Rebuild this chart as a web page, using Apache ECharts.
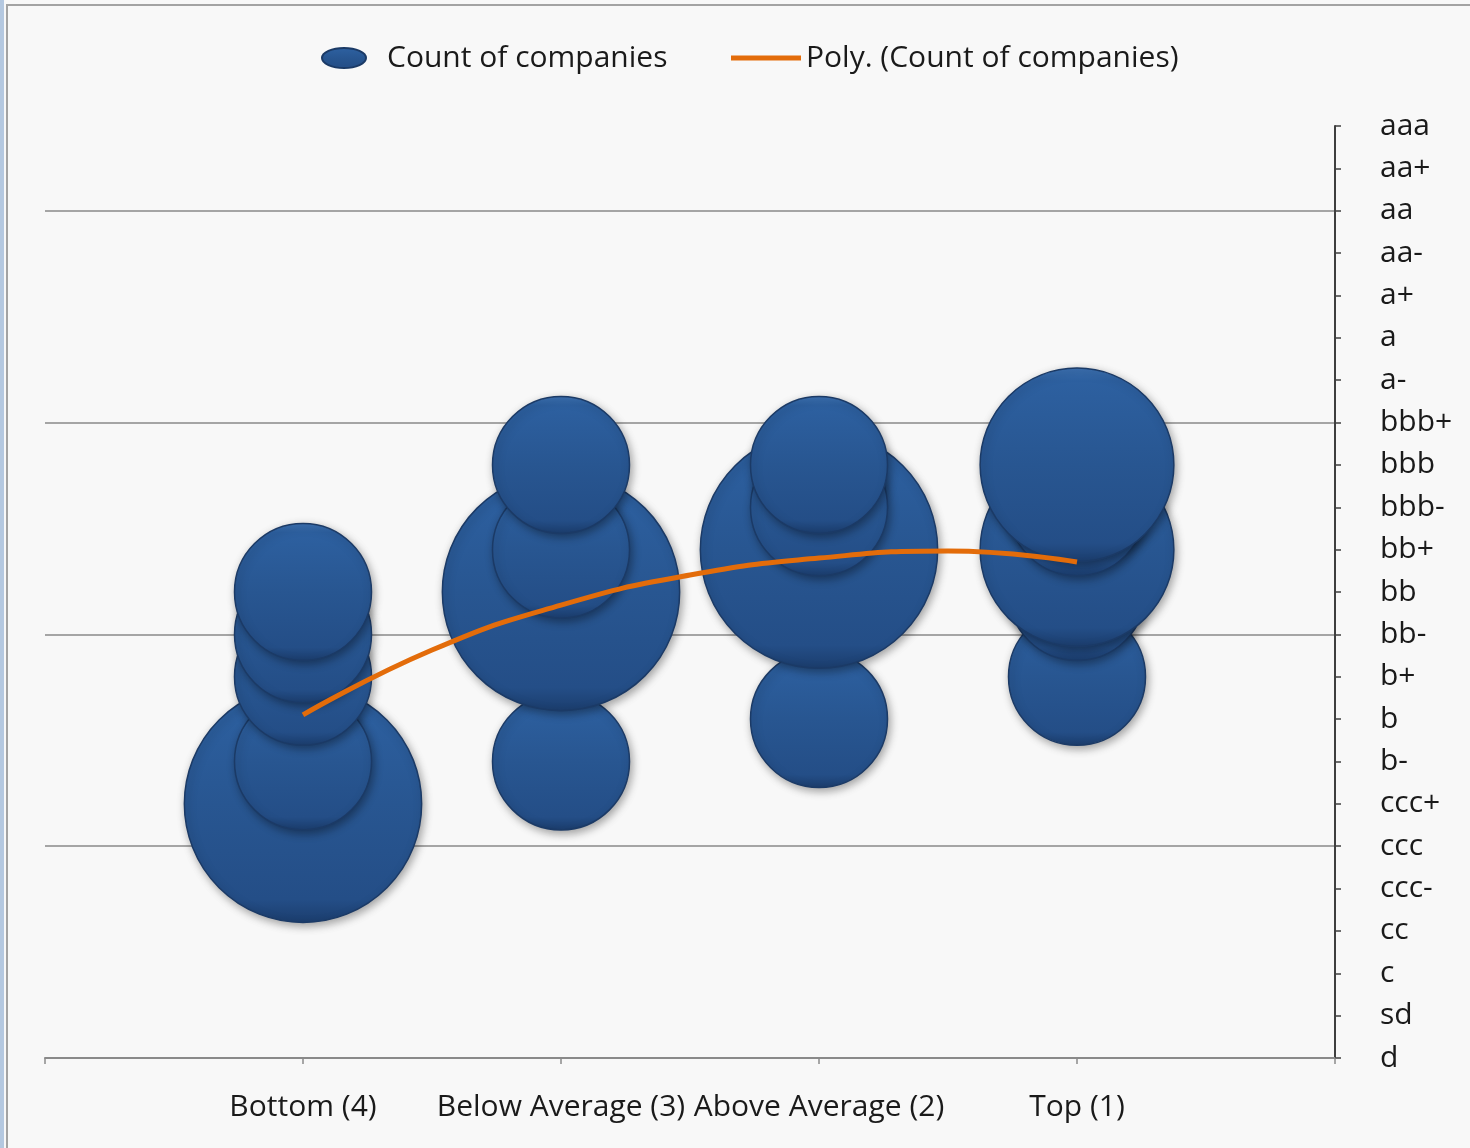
<!DOCTYPE html>
<html>
<head>
<meta charset="utf-8">
<script src="https://cdn.jsdelivr.net/npm/echarts@6/dist/echarts.min.js"></script>
<style>
  html, body { margin: 0; padding: 0; background: #f8f8f8; }
  #chart { width: 1470px; height: 1148px; }
</style>
</head>
<body>
<div id="chart"></div>
<script>
// ---- data ----
const categories = ['Bottom (4)', 'Below Average (3)', 'Above Average (2)', 'Top (1)'];
const ratings = ['d', 'sd', 'c', 'cc', 'ccc-', 'ccc', 'ccc+', 'b-', 'b', 'b+', 'bb-', 'bb', 'bb+',
                 'bbb-', 'bbb', 'bbb+', 'a-', 'a', 'a+', 'aa-', 'aa', 'aa+', 'aaa'];

// bubbles per category (rating, count of companies)
const bottomRatings = ['ccc+', 'b-', 'b+', 'bb-', 'bb'];
const bottomCounts  = [3, 1, 1, 1, 1];
const belowRatings  = ['b-', 'bb', 'bb+', 'bbb'];
const belowCounts   = [1, 3, 1, 1];
const aboveRatings  = ['b', 'bb+', 'bbb-', 'bbb'];
const aboveCounts   = [1, 3, 1, 1];
const topRatings    = ['b+', 'bb', 'bb+', 'bbb-', 'bbb'];
const topCounts     = [1, 1, 2, 1, 2];

// polynomial trend line
const trendX = [1, 1.5, 2, 2.5, 3, 3.5, 4];
const trendY = [8.1, 9.63, 10.69, 11.4, 11.8, 11.97, 11.71];

// ---- build ----
const groups = [
  [bottomRatings, bottomCounts],
  [belowRatings, belowCounts],
  [aboveRatings, aboveCounts],
  [topRatings, topCounts]
];
const bubbleData = [];
groups.forEach((g, i) => {
  g[0].forEach((r, j) => {
    bubbleData.push([i + 1, ratings.indexOf(r), g[1][j]]);
  });
});
const trendData = trendX.map((x, i) => [x, trendY[i]]);

const BASE_DIAM = 137;
const FONT = '"Open Sans", Lato, sans-serif';
const FS = 30;
const TXT = '#1a1a1a';

const bubbleFill = new echarts.graphic.LinearGradient(0, 0, 0, 1, [
  { offset: 0, color: '#3d72b3' },
  { offset: 0.07, color: '#2d60a0' },
  { offset: 0.5, color: '#285691' },
  { offset: 0.9, color: '#244e87' },
  { offset: 1, color: '#1b3d6d' }
]);

const chart = echarts.init(document.getElementById('chart'), null, { renderer: 'canvas' });
chart.setOption({
  backgroundColor: '#f8f8f8',
  animation: false,
  graphic: [
    { type: 'rect', shape: { x: 0, y: 0, width: 4, height: 1148 }, style: { fill: '#b4c8e0' }, z: 100 },
    { type: 'rect', shape: { x: 7, y: 5, width: 1470, height: 1160 }, style: { fill: 'none', stroke: '#a3a3a3', lineWidth: 2 }, z: 100 }
  ],
  legend: [
    {
      data: [{ name: 'Count of companies', icon: 'path://M0,10 A22,10 0 1,1 44,10 A22,10 0 1,1 0,10 Z' }],
      left: 316, top: 38, itemWidth: 44, itemHeight: 20,
      textStyle: { fontFamily: FONT, fontSize: FS, color: TXT, padding: [0, 0, 0, 16] },
      selectedMode: false
    },
    {
      data: [{ name: 'Poly. (Count of companies)', icon: 'rect' }],
      left: 726, top: 38, itemWidth: 70, itemHeight: 5, itemGap: 0,
      textStyle: { fontFamily: FONT, fontSize: FS, color: TXT, padding: [0, 0, 0, 0] },
      selectedMode: false
    }
  ],
  grid: { left: 45, right: 135, top: 126, bottom: 90, containLabel: false },
  xAxis: {
    type: 'value', min: 0, max: 5, interval: 1,
    axisLine: { show: true, onZero: false, lineStyle: { color: '#8a8a8a', width: 2 } },
    axisTick: { show: true, length: 6, lineStyle: { color: '#8a8a8a', width: 1.5 } },
    splitLine: { show: false },
    axisLabel: {
      margin: 34, fontFamily: FONT, fontSize: FS, color: TXT,
      formatter: v => (v >= 1 && v <= categories.length) ? categories[v - 1] : ''
    }
  },
  yAxis: [
    {
      type: 'value', position: 'right', min: 0, max: ratings.length - 1, interval: 1,
      axisLine: { show: true, onZero: false, lineStyle: { color: '#3f3f3f', width: 2 } },
      axisTick: { show: true, length: 6, lineStyle: { color: '#3f3f3f', width: 1.5 } },
      splitLine: { show: false },
      axisLabel: {
        margin: 45, fontFamily: FONT, fontSize: FS, color: TXT, align: 'left',
        formatter: v => ratings[v] || ''
      }
    },
    {
      type: 'value', position: 'right', min: 0, max: ratings.length - 1, interval: 5,
      axisLine: { show: false, onZero: false }, axisTick: { show: false }, axisLabel: { show: false },
      splitLine: { show: true, lineStyle: { color: ['#8a8a8a', '#8a8a8a', '#8a8a8a', '#8a8a8a', '#8a8a8a', 'rgba(0,0,0,0)'], width: 1.5 } }
    }
  ],
  series: [
    {
      name: 'Count of companies',
      type: 'scatter',
      yAxisIndex: 0,
      data: bubbleData,
      symbol: 'circle',
      symbolSize: d => BASE_DIAM * Math.sqrt(d[2]),
      itemStyle: {
        color: bubbleFill,
        borderColor: '#1b3a66', borderWidth: 1.5,
        shadowColor: 'rgba(0,0,0,0.35)', shadowBlur: 8, shadowOffsetX: 2, shadowOffsetY: 3,
        opacity: 1
      },
      emphasis: { disabled: true },
      z: 2
    },
    {
      name: 'Poly. (Count of companies)',
      type: 'line',
      yAxisIndex: 0,
      data: trendData,
      smooth: true,
      showSymbol: false,
      symbol: 'none',
      lineStyle: { color: '#e36c0a', width: 5 },
      itemStyle: { color: '#e36c0a' },
      emphasis: { disabled: true },
      z: 3
    }
  ]
});
</script>
</body>
</html>
